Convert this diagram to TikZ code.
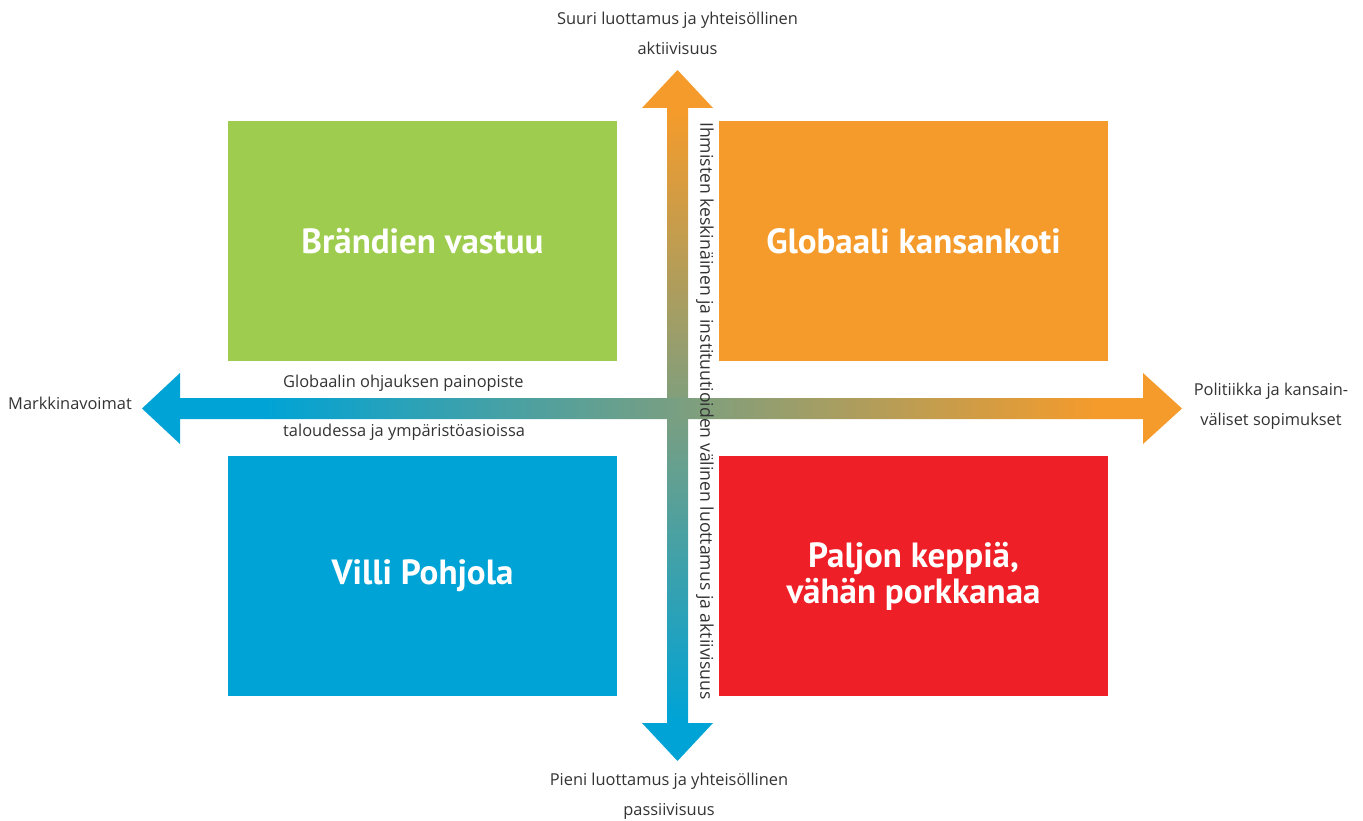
\documentclass[tikz,border=0pt]{standalone}
\usepackage{fontspec}
\setmainfont{Open Sans}
\newfontfamily\titlefont{PT Sans}
\definecolor{cgreen}{HTML}{9ECC4F}
\definecolor{corange}{HTML}{F59B2B}
\definecolor{cblue}{HTML}{00A3D6}
\definecolor{cred}{HTML}{EE1F26}
\definecolor{ctext}{HTML}{333333}
\pgfdeclarehorizontalshading{hshade}{100bp}{color(0bp)=(cblue); color(30.9bp)=(cblue); color(71bp)=(corange); color(100bp)=(corange)}
\pgfdeclareverticalshading{vshade}{100bp}{color(0bp)=(cblue); color(28bp)=(cblue); color(72bp)=(corange); color(100bp)=(corange)}
\tikzset{
  quad/.style={fill=#1, minimum width=389pt, minimum height=240pt, inner sep=0pt, text=white, align=center,
    font=\titlefont\bfseries\fontsize{35}{36}\selectfont},
  lbl/.style={text=ctext, font=\fontsize{16.4}{30}\selectfont, inner sep=0pt, align=center},
}
\begin{document}
\begin{tikzpicture}[x=1pt,y=-1pt]
\useasboundingbox (0,0) rectangle (1363,821);
% boxes
\node[quad=cgreen] (q1) at (422.5,241) {Brändien vastuu};
\node[quad=corange] (q2) at (913.5,241) {Globaali kansankoti};
\node[quad=cblue] (q3) at (422.5,576) {Villi Pohjola};
\node[quad=cred] (q4) at (913.5,576) {Paljon keppiä,\\vähän porkkanaa};
% vertical arrow
\shade[shading=vshade] (677.5,70) -- (713,108) -- (688,108) -- (688,723) -- (713,723) -- (677.5,761) -- (642,723) -- (667,723) -- (667,108) -- (642,108) -- cycle;
% horizontal arrow
\shade[shading=hshade] (142,408.5) -- (180,373) -- (180,398) -- (1143,398) -- (1143,373) -- (1182,408.5) -- (1143,444) -- (1143,419) -- (180,419) -- (180,444) -- cycle;
% labels
\node[lbl] (top) at (677.5,33) {Suuri luottamus ja yhteisöllinen\\aktiivisuus};
\node[lbl] (bot) at (669,796) {Pieni luottamus ja yhteisöllinen\\passiivisuus};
\node[lbl, anchor=west] (left) at (8,403) {Markkinavoimat};
\node[lbl] (right) at (1271,406) {Politiikka ja kansain-\\väliset sopimukset};
\node[lbl, anchor=west] (h1) at (283,383) {Globaalin ohjauksen painopiste};
\node[lbl, anchor=west] (h2) at (283,432) {taloudessa ja ympäristöasioissa};
\node[lbl, font=\fontsize{17.6}{20}\selectfont, rotate=-90, anchor=west] (vt) at (705,122) {Ihmisten keskinäinen ja instituutioiden välinen luottamus ja aktiivisuus};
\end{tikzpicture}
\end{document}
